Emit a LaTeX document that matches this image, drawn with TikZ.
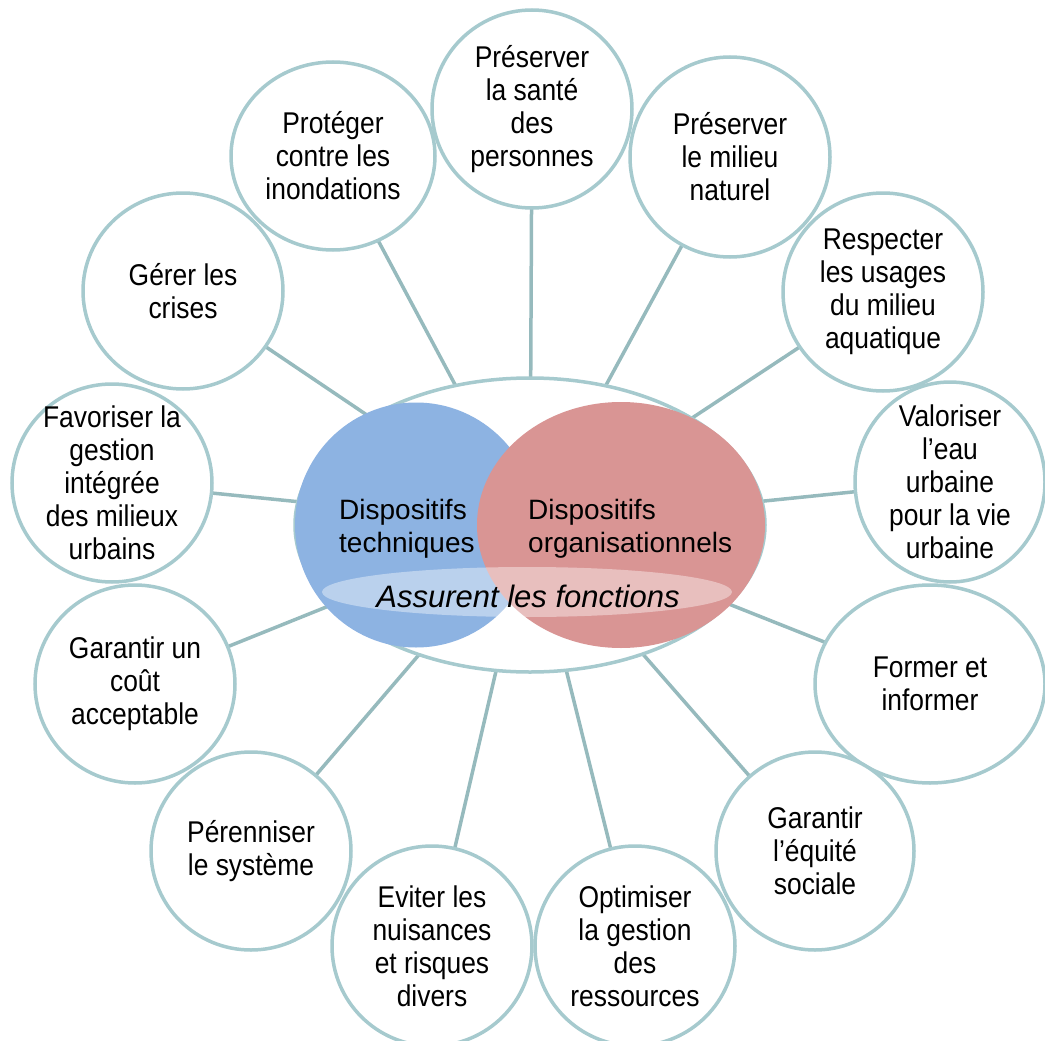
\documentclass[tikz,border=0pt]{standalone}
\usepackage{fontspec}
\setmainfont{Liberation Sans}
\newfontfamily\bullefont[FakeStretch=0.88]{Liberation Sans}
\usepackage{xcolor}
\usetikzlibrary{shapes.geometric}
\usetikzlibrary{backgrounds}
\definecolor{bordbulle}{RGB}{166,202,206}
\definecolor{trait}{RGB}{150,186,189}
\definecolor{bleu}{RGB}{141,179,226}
\definecolor{rouge}{RGB}{217,149,148}
\newcommand\bulle[6]{
  \node[bulle, minimum width=#4pt, minimum height=#5pt, label={[texte]center:{#6}}] (#1) at (#2,#3) {};
}

\begin{document}
\begin{tikzpicture}[x=1pt, y=-1pt,
		bulle/.style={ellipse, draw=bordbulle, line width=3.5pt, fill=white, inner sep=0pt, outer sep=0pt},
		texte/.style={align=center, inner sep=0pt, font=\bullefont\fontsize{30}{33}\selectfont},
		venn/.style={align=left, inner sep=0pt, font=\fontsize{28}{33}\selectfont},
		lien/.style={draw=trait, line width=3.5pt}]
	    		\useasboundingbox (0,0) rectangle (1045,1041);
	    		% le coeur
	    		\node[ellipse, draw=bordbulle, line width=3.5pt, fill=white, minimum width=470pt, minimum height=294pt, inner sep=0pt] (centre) at (530,525) {};
	    		\node[ellipse, fill=bleu, minimum width=242pt, minimum height=245pt, inner sep=0pt] (tech) at (416,525) {};
	    		\node[ellipse, fill=rouge, minimum width=288pt, minimum height=246pt, inner sep=0pt] (orga) at (621,525) {};
	    		\node[ellipse, fill=white, fill opacity=0.4, minimum width=410pt, minimum height=50pt, inner sep=0pt] (fonctions) at (527,592) {};
	    		\node[venn, anchor=west] (t-tech) at (339,529) {Dispositifs\\techniques};
	    		\node[venn, anchor=west] (t-orga) at (528,529) {Dispositifs\\organisationnels};
	    		\node[inner sep=0pt, font=\itshape\fontsize{31}{36}\selectfont] (t-fonctions) at (528,596) {Assurent les fonctions};
	    		% les fonctions
	    		\bulle{sante}{532}{109}{200}{198}{Préserver\\la santé\\des\\personnes}
	    		\bulle{naturel}{730}{157}{200}{200}{Préserver\\le milieu\\naturel}
	    		\bulle{usages}{883}{292}{200}{198}{Respecter\\les usages\\du milieu\\aquatique}
	    		\bulle{valoriser}{950}{482}{190}{200}{Valoriser\\l’eau\\urbaine\\pour la vie\\urbaine}
	    		\bulle{former}{930}{684}{230}{198}{Former et\\informer}
	    		\bulle{equite}{815}{851}{198}{198}{Garantir\\l’équité\\sociale}
	    		\bulle{ressources}{635}{946}{200}{200}{Optimiser\\la gestion\\des\\ressources}
	    		\bulle{nuisances}{432}{946}{200}{200}{Eviter les\\nuisances\\et risques\\divers}
	    		\bulle{perenniser}{251}{851}{200}{198}{Pérenniser\\le système}
	    		\bulle{cout}{135}{684}{200}{198}{Garantir un\\coût\\acceptable}
	    		\bulle{gestion}{112}{483}{200}{198}{Favoriser la\\gestion\\intégrée\\des milieux\\urbains}
	    		\bulle{crises}{183}{291}{200}{196}{Gérer les\\crises}
	    		\bulle{inondations}{333}{156}{204}{188}{Protéger\\contre les\\inondations}
	    		\begin{scope}[on background layer]
	    			\foreach \b in {sante,naturel,usages,valoriser,former,equite,ressources,nuisances,perenniser,cout,gestion,crises,inondations}
	    				\draw[lien] (centre.center) -- (\b);
	    		\end{scope}
			\end{tikzpicture}
\end{document}
